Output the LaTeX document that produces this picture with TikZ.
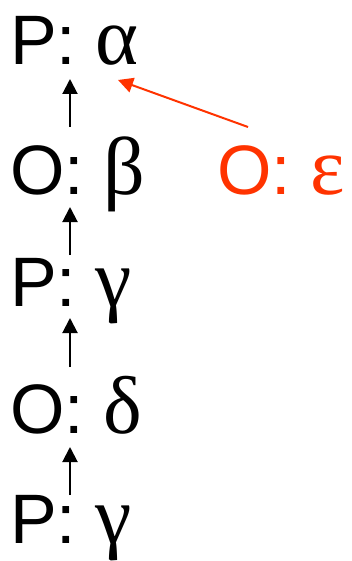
\documentclass[tikz,border=0pt]{standalone}
\usepackage{fontspec}
\setmainfont{Liberation Sans}
\newfontfamily\greekfont{Liberation Serif}
\usetikzlibrary{arrows.meta, positioning}
\definecolor{myred}{HTML}{FF3300}
\newcommand{\gk}[1]{{\greekfont\fontsize{82}{96}\selectfont #1}}

\begin{document}
\begin{tikzpicture}[
  x=1pt, y=-1pt,
  move/.style={inner sep=0pt, anchor=base west, font=\fontsize{70}{84}\selectfont},
  redmove/.style={move, text=myred},
  arr/.style={-{Triangle[length=15pt, width=15pt]}, line width=2pt},
  redarr/.style={arr, draw=myred, fill=myred},
]
\useasboundingbox (0,0) rectangle (352,561);

%% Chain of moves
\node[move] (pa) at (10,65) {P: \gk{α}};
\node[move] (ob) at (10,195) {O: \gk{β}};
\node[move] (pg) at (10,306) {P: \gk{γ}};
\node[move] (od) at (10,433) {O: \gk{δ}};
\node[move] (pgb) at (10,543) {P: \gk{γ}};

%% Other answer
\node[redmove] (oe) at (217,195) {O: \gk{ε}};

%% Arrows
\coordinate (axis) at (70,0);
\draw[arr] ([yshift=68pt]ob.base -| axis) -- ([yshift=-14pt]pa.base -| axis);
\draw[arr] ([yshift=51pt]pg.base -| axis) -- ([yshift=-12pt]ob.base -| axis);
\draw[arr] ([yshift=66pt]od.base -| axis) -- ([yshift=-12pt]pg.base -| axis);
\draw[arr] ([yshift=48pt]pgb.base -| axis) -- ([yshift=-14pt]od.base -| axis);
\draw[redarr] ([xshift=31pt, yshift=68pt]oe.base west) -- ([xshift=108pt, yshift=-15pt]pa.base west);

\end{tikzpicture}
\end{document}
